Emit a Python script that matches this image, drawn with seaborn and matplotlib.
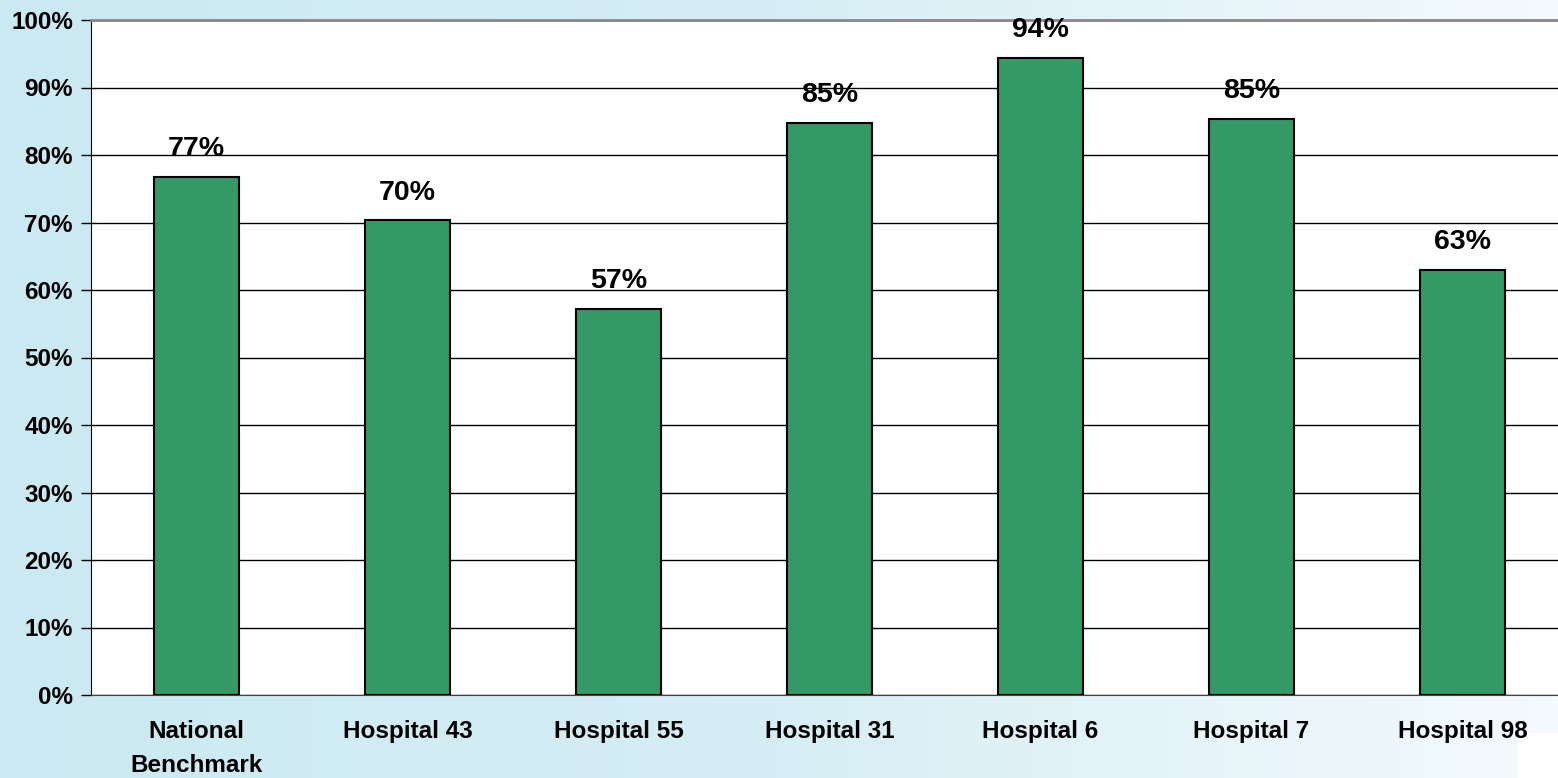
import numpy as np
import matplotlib
matplotlib.use("Agg")
import matplotlib.pyplot as plt
import seaborn as sns
import pandas as pd

categories = ["National\nBenchmark", "Hospital 43", "Hospital 55", "Hospital 31",
              "Hospital 6", "Hospital 7", "Hospital 98"]
values = [76.7, 70.3, 57.2, 84.7, 94.4, 85.3, 63.0]
labels = ["77%", "70%", "57%", "85%", "94%", "85%", "63%"]
yticks = [0, 10, 20, 30, 40, 50, 60, 70, 80, 90, 100]

df = pd.DataFrame({"cat": categories, "val": values})

sns.set_style("white")
plt.rcParams["font.family"] = ["Liberation Sans", "DejaVu Sans"]
plt.rcParams["font.weight"] = "bold"
plt.rcParams["text.color"] = "black"
plt.rcParams["xtick.color"] = "black"
plt.rcParams["ytick.color"] = "black"

fig = plt.figure(figsize=(15.58, 7.78), dpi=100)

# background gradient (light blue on the left fading to white)
bg = fig.add_axes([0, 0, 1, 1], zorder=-10)
grad = np.linspace(0, 1, 256).reshape(1, -1)
cmap = matplotlib.colors.LinearSegmentedColormap.from_list("bg", ["#cbe9f2", "#d6eef5", "#f4fafd"])
bg.imshow(grad, aspect="auto", cmap=cmap, extent=[0, 1, 0, 1])
bg.add_patch(plt.Rectangle((1518 / 1558, 0), 1, (778 - 733) / 778, color="white"))
bg.set_xlim(0, 1)
bg.set_ylim(0, 1)
bg.axis("off")

ax = fig.add_axes([91 / 1558, 83 / 778, 1477 / 1558, 675 / 778])
ax.set_facecolor("white")
sns.barplot(data=df, x="cat", y="val", color="#339966", width=0.4,
            edgecolor="black", linewidth=1.5, saturation=1, ax=ax, zorder=3)

ax.set_ylim(0, 100)
ax.set_xlim(-0.5, 6.5)
ax.set_yticks(yticks)
ax.set_yticklabels([f"{t}%" for t in yticks], fontsize=17.5, fontweight="bold")
ax.set_xticks(np.arange(-0.5, 7, 1), minor=False)
ax.set_xticklabels([])
ax.set_xticks(range(7), minor=True)
ax.set_xticklabels(categories, minor=True, fontsize=17.5, fontweight="bold", linespacing=1.6)
ax.tick_params(axis="x", which="minor", length=0, pad=18)
ax.tick_params(axis="x", which="major", length=7, width=1, color="black", direction="out")
ax.tick_params(axis="y", length=7, width=1, color="black", direction="out", pad=6, left=True)
ax.set_xlabel("")
ax.set_ylabel("")
ax.yaxis.grid(True, color="black", linewidth=1)
ax.set_axisbelow(True)

ax.spines["right"].set_visible(False)
ax.spines["top"].set_color("#888888")
ax.spines["top"].set_linewidth(2)
ax.spines["left"].set_color("black")
ax.spines["bottom"].set_color("#444444")

for i, (v, lab) in enumerate(zip(values, labels)):
    ax.text(i, v + 3.1, lab, ha="center", va="baseline", fontsize=20.5, fontweight="bold")

fig.savefig("out.png", dpi=100)
